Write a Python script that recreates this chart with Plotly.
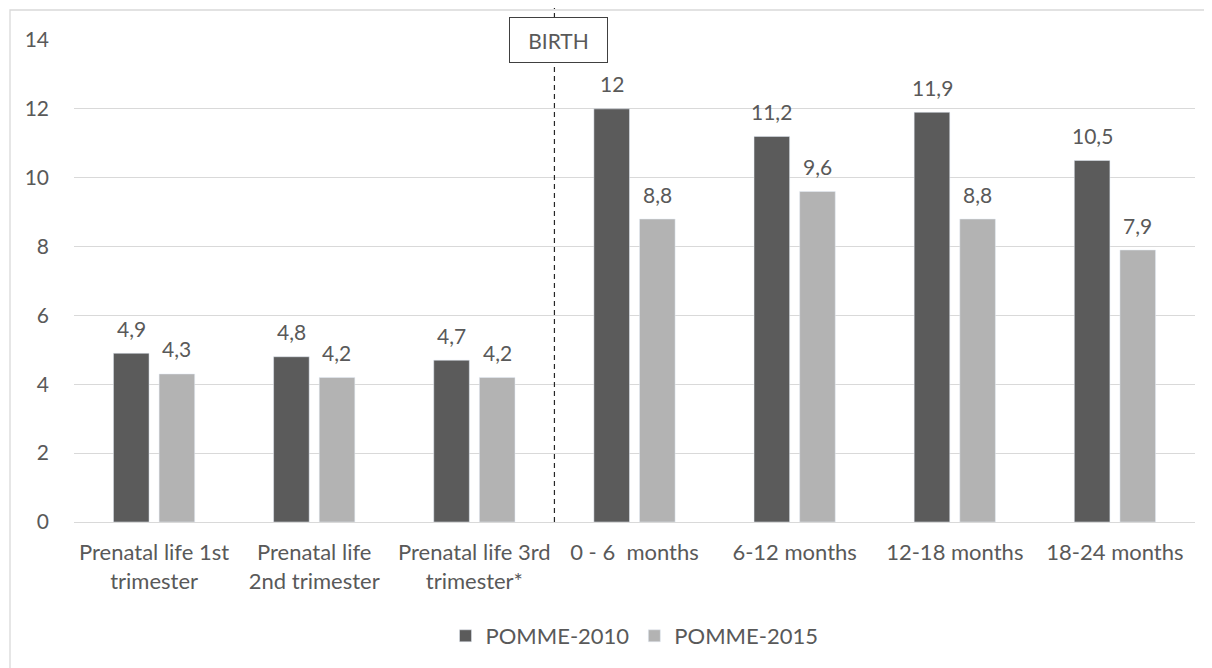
import plotly.graph_objects as go

categories = ["Prenatal life 1st<br>trimester", "Prenatal life<br>2nd trimester",
              "Prenatal life 3rd<br>trimester*", "0 - 6  months", "6-12 months",
              "12-18 months", "18-24 months"]
pomme_2010 = [4.9, 4.8, 4.7, 12, 11.2, 11.9, 10.5]
pomme_2015 = [4.3, 4.2, 4.2, 8.8, 9.6, 8.8, 7.9]
y_ticks = [0, 2, 4, 6, 8, 10, 12, 14]

def fmt(v):
    return ("%g" % v).replace(".", ",")

FONT = "Lato, Open Sans, sans-serif"
TXT = "#595959"
FS = 21
FSX = 22

fig = go.Figure()
fig.add_trace(go.Bar(x=categories, y=pomme_2010, name="POMME-2010",
                     marker_color="#5b5b5b"))
fig.add_trace(go.Bar(x=categories, y=pomme_2015, name="POMME-2015",
                     marker_color="#b3b3b3"))

# page body has an 8px margin, so figure coords = screen coords - 8
OFF = 8
W, H = 1212, 668
L, T = 74 - OFF, 40 - OFF
R = W - (1195 - OFF)
B = H - (522 - OFF)
pw, ph = W - L - R, H - T - B

annotations = []
for series, dx in ((pomme_2010, -22.75), (pomme_2015, 22.75)):
    for c, v in zip(categories, series):
        annotations.append(dict(text=fmt(v), x=c, y=v, xref="x", yref="y",
                                showarrow=False, xshift=dx, yshift=25, yanchor="middle",
                                font=dict(size=FS, color=TXT, family=FONT)))
annotations.append(dict(text="BIRTH", xref="x", yref="paper", x=2.5, y=1, xshift=4,
                        showarrow=False, bgcolor="white", bordercolor="#404040", borderwidth=1,
                        borderpad=10, width=77, height=24, yanchor="middle",
                        font=dict(size=FS, color=TXT, family=FONT)))

fig.update_layout(
    width=W, height=H,
    margin=dict(l=L, r=R, t=T, b=B, autoexpand=False),
    paper_bgcolor="white", plot_bgcolor="white",
    barmode="group", bargap=0.43, bargroupgap=0.22,
    font=dict(family=FONT, size=FS, color=TXT),
    showlegend=True,
    legend=dict(orientation="h", x=0.5, xanchor="center", y=-(636 - 522) / ph, yanchor="middle",
                font=dict(size=FSX, color=TXT), traceorder="normal"),
    xaxis=dict(showgrid=False, showline=False, ticks="", ticklabelstandoff=15,
               tickfont=dict(size=FSX, color=TXT)),
    yaxis=dict(range=[0, 14], tickvals=y_ticks, showgrid=True, gridcolor="#d9d9d9",
               gridwidth=1.3, zeroline=True, zerolinecolor="#d9d9d9", zerolinewidth=1.3,
               ticks="", ticklabelstandoff=24, tickfont=dict(size=FS, color=TXT)),
    shapes=[
        dict(type="rect", xref="paper", yref="paper",
             x0=(10 - OFF - L) / pw, x1=(W + 20 - L) / pw,
             y0=-(H + 20 - T - ph) / ph, y1=1 + (T - (10 - OFF)) / ph,
             line=dict(color="#d9d9d9", width=1.3), fillcolor="rgba(0,0,0,0)", layer="below"),
        dict(type="line", xref="x", yref="paper", x0=2.5, x1=2.5, y0=0, y1=1 + (T + 10) / ph,
             line=dict(color="#262626", width=1.2, dash="5px,4px")),
    ],
    annotations=annotations,
)

fig.write_html("out.html")
